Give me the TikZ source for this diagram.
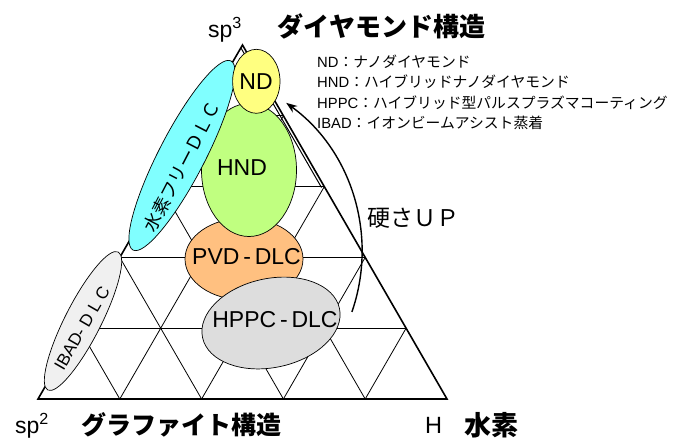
\documentclass[tikz,border=0pt]{standalone}
\usepackage{fontspec}
\usepackage{graphicx}
\setmainfont{Liberation Sans}
\newfontfamily\jp{Noto Sans CJK JP}
\usetikzlibrary{shapes.geometric,arrows.meta,calc}
\definecolor{ndc}{HTML}{FFFF80}
\definecolor{hndc}{HTML}{C0FF80}
\definecolor{pvdc}{HTML}{FFC080}
\definecolor{hppcc}{HTML}{DDDDDD}
\definecolor{hfc}{HTML}{80FFFF}
\definecolor{ibadc}{HTML}{F0F0F0}
\begin{document}
\begin{tikzpicture}[x=1pt,y=-1pt,
  gridline/.style={line width=0.8pt},
  edgeline/.style={line width=1.6pt, line join=miter},
  blob/.style={ellipse, draw, line width=0.7pt, inner sep=0pt},
  lbl/.style={font=\fontsize{23}{23}\selectfont, inner sep=0pt},
  leg/.style={font=\fontsize{14.8}{15}\selectfont, inner sep=0pt, anchor=west},
  title/.style={font=\jp\bfseries\fontsize{26}{26}\selectfont, inner sep=0pt},
  hardarrow/.style={line width=1.4pt, -{Stealth[length=11pt,width=8pt]}}]
\useasboundingbox (0,0) rectangle (684,440);
% triangle
\coordinate (A) at (242.5,45);
\coordinate (L) at (38,399);
\coordinate (R) at (447,399);
\foreach \k [evaluate=\k as \f using \k/5, evaluate=\k as \g using (5-\k)/5] in {1,...,4} {
  \draw[gridline] ($(L)!\f!(A)$) -- ($(R)!\f!(A)$);
  \draw[gridline] ($(L)!\f!(R)$) -- ($(R)!\g!(A)$);
  \draw[gridline] ($(L)!\f!(R)$) -- ($(L)!\f!(A)$);
}
\draw[edgeline] (A) -- (L) -- (R) -- cycle;
\coordinate (E1) at (241,48);
\coordinate (E2) at (321.5,187.5);
\draw[line width=1pt] (E1) -- (E2);
% ellipses
\node[blob, fill=pvdc, minimum width=118, minimum height=82] (pvd) at (244,259) {};
\node[blob, fill=hppcc, minimum width=140, minimum height=89, rotate=12] (hppc) at (271,323) {};
\node[blob, fill=hndc, minimum width=95, minimum height=133] (hnd) at (249,170) {};
\node[blob, fill=hfc, minimum width=213, minimum height=46, rotate=62.6] (hf) at (182,155.5) {};
\node[blob, fill=ndc, minimum width=47.4, minimum height=64] (nd) at (256.3,81.3) {};
\node[blob, fill=ibadc, minimum width=155, minimum height=36, rotate=63] (ibad) at (83,321) {};
% labels
\node[lbl] (ndt) at (256,82) {ND};
\node[lbl] (hndt) at (242,168) {HND};
\node[lbl] (pvdt) at (246.5,256.5) {PVD\,-\,DLC};
\node[lbl] (hppct) at (275,320) {HPPC\,-\,DLC};
\node[font=\jp\fontsize{18}{18}\selectfont, inner sep=0pt, rotate=62.6] (hft) at (182,166) {水素フリーＤＬＣ};
\node[font=\fontsize{17}{17}\selectfont, inner sep=0pt, rotate=60] (ibadt) at (82,328) {IBAD- D L C};
% hardness arrow
\coordinate (a0) at (351.9,311.9);
\draw[hardarrow] (a0) arc[start angle=19.1, end angle=-54, radius=184];
\node[font=\jp\fontsize{23}{23}\selectfont, inner sep=0pt] (hard) at (413,218) {硬さＵＰ};
% legend
\node[leg] (l1) at (317,61.5) {ND{\jp ：ナノダイヤモンド}};
\node[leg] (l2) at (317,82) {HND{\jp ：ハイブリッドナノダイヤモンド}};
\node[leg] (l3) at (317,102.5) {HPPC{\jp ：ハイブリッド型パルスプラズマコーティング}};
\node[leg] (l4) at (317,123) {IBAD{\jp ：イオンビームアシスト蒸着}};
% titles
\node[font=\fontsize{23}{23}\selectfont, inner sep=0pt] (sp3) at (225,30) {sp\textsuperscript{3}};
\node[title] (dia) at (381.5,26.5) {ダイヤモンド構造};
\node[font=\fontsize{23}{23}\selectfont, inner sep=0pt] (sp2) at (32,426) {sp\textsuperscript{2}};
\node[title, font=\jp\bfseries\fontsize{25}{25}\selectfont] (gra) at (181,425) {グラファイト構造};
\node[font=\fontsize{23.5}{23.5}\selectfont, inner sep=0pt] (hh) at (433.5,425) {H};
\node[title, font=\jp\bfseries\fontsize{27}{27}\selectfont] (suiso) at (491.5,425) {水素};
\end{tikzpicture}
\end{document}
